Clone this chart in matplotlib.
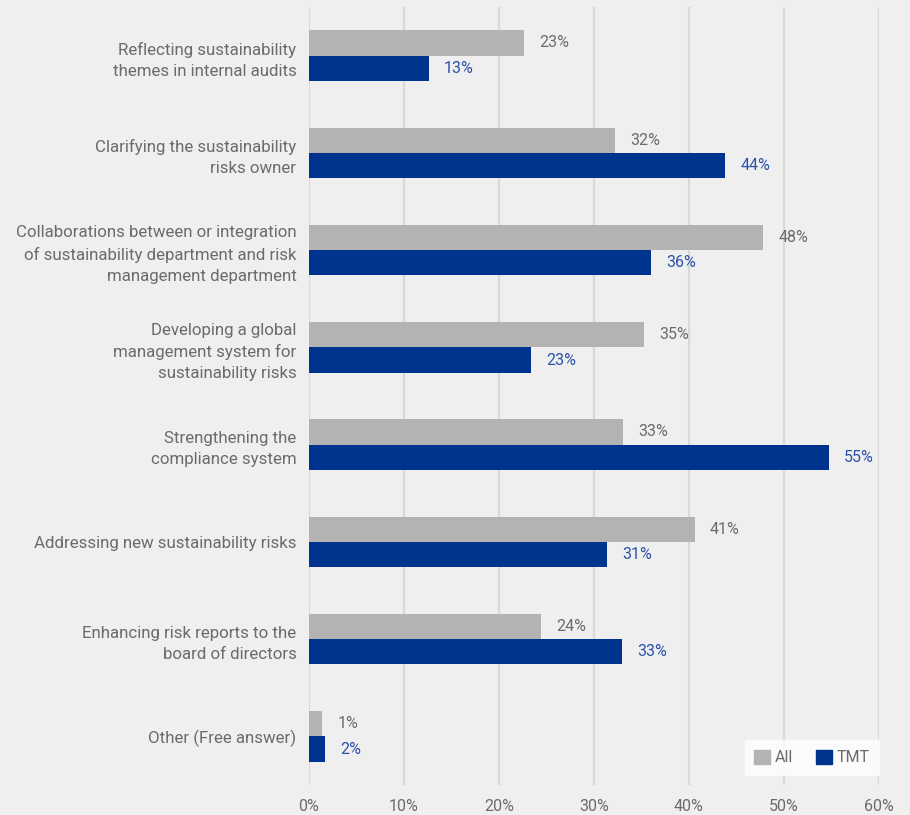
import matplotlib
matplotlib.use("Agg")
import matplotlib.pyplot as plt
from matplotlib.patches import Patch

# ---- survey data (% of respondents) ----
categories = [
    "Reflecting sustainability\nthemes in internal audits",
    "Clarifying the sustainability\nrisks owner",
    "Collaborations between or integration\nof sustainability department and risk\nmanagement department",
    "Developing a global\nmanagement system for\nsustainability risks",
    "Strengthening the\ncompliance system",
    "Addressing new sustainability risks",
    "Enhancing risk reports to the\nboard of directors",
    "Other (Free answer)",
]
all_vals = [22.6, 32.2, 47.8, 35.3, 33.1, 40.6, 24.4, 1.4]
tmt_vals = [12.6, 43.8, 36.0, 23.4, 54.7, 31.4, 32.9, 1.7]
xticks = [0, 10, 20, 30, 40, 50, 60]

BG = "#efefef"
GREY = "#b3b3b3"
BLUE = "#00338d"
TXT = "#6b6b6b"
BLUE_TXT = "#2a52aa"

plt.rcParams["font.family"] = ["Roboto", "DejaVu Sans"]

fig = plt.figure(figsize=(9.1, 8.15), dpi=100, facecolor=BG)
ax = fig.add_axes([309 / 910, 30 / 815, 570 / 910, 778 / 815], facecolor=BG)

h = 0.26
ys = list(range(len(categories)))
ax.barh([y - h / 2 for y in ys], all_vals, height=h, color=GREY, zorder=3)
ax.barh([y + h / 2 for y in ys], tmt_vals, height=h, color=BLUE, zorder=3)

for y, a, t in zip(ys, all_vals, tmt_vals):
    ax.text(a + 1.6, y - h / 2, f"{a:.0f}%", va="center", ha="left",
            fontsize=11.5, color=TXT)
    ax.text(t + 1.6, y + h / 2, f"{t:.0f}%", va="center", ha="left",
            fontsize=11.5, color=BLUE_TXT)

ax.set_xlim(0, 60)
ax.set_ylim(len(categories) - 0.5, -0.5)
ax.set_xticks(xticks)
ax.set_xticklabels([f"{v}%" for v in xticks], fontsize=11.5, color=TXT)
ax.set_yticks(ys)
ax.set_yticklabels(categories, fontsize=12.2, color=TXT, linespacing=1.5)
ax.tick_params(axis="both", length=0)
ax.tick_params(axis="y", pad=9)
ax.tick_params(axis="x", pad=10)
for s in ax.spines.values():
    s.set_visible(False)
ax.grid(axis="x", color="#d9d9d9", linewidth=1.6, zorder=0)

handles = [Patch(color=GREY, label="All"), Patch(color=BLUE, label="TMT")]
leg = ax.legend(handles=handles, loc="lower right", bbox_to_anchor=(1.0, 0.013),
                ncol=2, frameon=True, fancybox=False, fontsize=11.5,
                handlelength=1.0, handleheight=1.0, handletextpad=0.3,
                columnspacing=1.4, borderpad=0.6, borderaxespad=0.0)
leg.get_frame().set_facecolor("white")
leg.get_frame().set_edgecolor("white")
for t in leg.get_texts():
    t.set_color(TXT)

fig.savefig("out.png", dpi=100, facecolor=BG)
